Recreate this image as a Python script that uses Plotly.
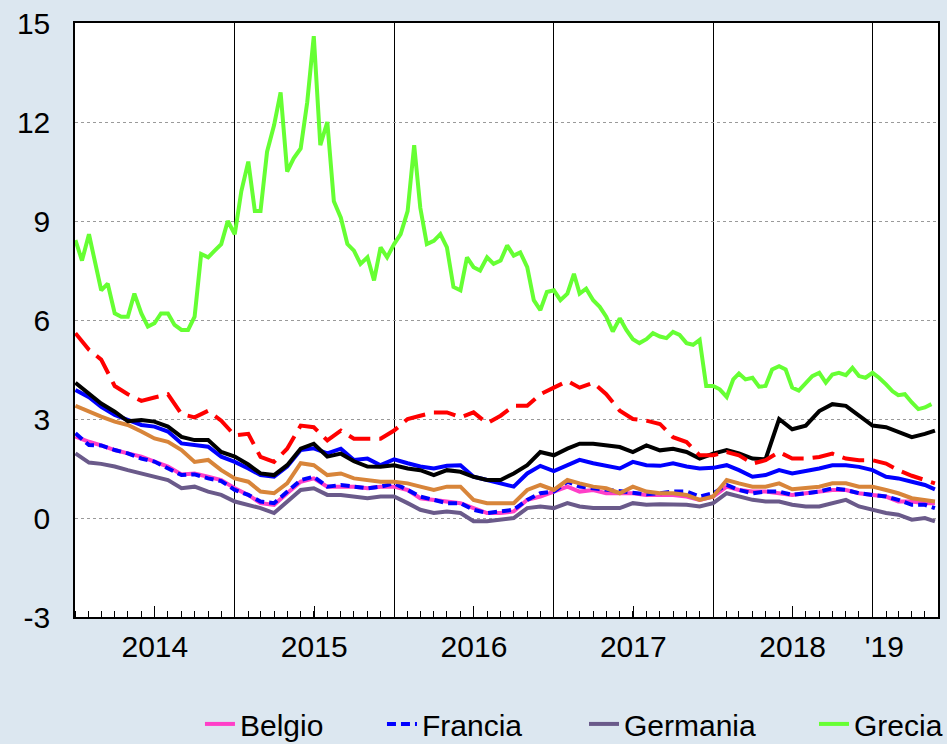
import pandas as pd
import plotly.graph_objects as go

# ---------------- data (10-year government bond yields, %) ----------------
month_starts = pd.date_range("2014-01-01", "2019-05-01", freq="MS")
monthly_dates = [d.strftime("%Y-%m-%d") for d in month_starts] + ["2019-05-24"]
semimonthly_dates = []
for d in month_starts:
    semimonthly_dates.append(d.strftime("%Y-%m-01"))
    semimonthly_dates.append(d.strftime("%Y-%m-16"))

belgio = [2.47, 2.31, 2.20, 2.06, 1.96, 1.86, 1.71, 1.56, 1.32, 1.35, 1.25, 1.15,
          0.90, 0.70, 0.45, 0.40, 0.75, 1.10, 1.20, 0.95, 0.95, 0.95, 0.90, 0.95,
          0.95, 0.85, 0.60, 0.55, 0.50, 0.45, 0.30, 0.15, 0.15, 0.20, 0.55, 0.65,
          0.80, 0.95, 0.80, 0.85, 0.75, 0.75, 0.75, 0.70, 0.70, 0.70, 0.65, 0.55,
          0.65, 0.95, 0.85, 0.80, 0.80, 0.75, 0.70, 0.75, 0.80, 0.85, 0.85, 0.75,
          0.70, 0.65, 0.50, 0.50, 0.45, 0.45]
francia = [2.57, 2.21, 2.20, 2.06, 1.96, 1.80, 1.71, 1.50, 1.30, 1.32, 1.20, 1.12,
           0.85, 0.70, 0.50, 0.45, 0.80, 1.15, 1.25, 0.95, 1.00, 0.95, 0.90, 0.95,
           1.05, 0.85, 0.65, 0.55, 0.45, 0.45, 0.25, 0.15, 0.20, 0.25, 0.55, 0.75,
           0.80, 1.10, 0.95, 0.90, 0.85, 0.80, 0.75, 0.72, 0.75, 0.80, 0.80, 0.65,
           0.75, 1.00, 0.85, 0.75, 0.80, 0.80, 0.70, 0.75, 0.80, 0.90, 0.85, 0.75,
           0.70, 0.65, 0.55, 0.40, 0.40, 0.30]
germania = [1.96, 1.68, 1.64, 1.56, 1.45, 1.35, 1.25, 1.15, 0.90, 0.95, 0.80, 0.70,
            0.50, 0.40, 0.30, 0.15, 0.50, 0.85, 0.90, 0.70, 0.70, 0.65, 0.60, 0.65,
            0.65, 0.45, 0.25, 0.15, 0.20, 0.15, -0.10, -0.10, -0.05, 0.00, 0.30, 0.35,
            0.30, 0.45, 0.35, 0.30, 0.30, 0.30, 0.45, 0.40, 0.42, 0.42, 0.40, 0.35,
            0.45, 0.75, 0.65, 0.55, 0.50, 0.50, 0.40, 0.35, 0.35, 0.45, 0.55, 0.35,
            0.25, 0.15, 0.10, -0.05, 0.00, -0.10]
grecia = [8.42, 7.80, 8.60, 7.65, 6.90, 7.10, 6.20, 6.10, 6.10, 6.80, 6.20, 5.80,
          5.90, 6.20, 6.20, 5.85, 5.70, 5.70, 6.10, 8.00, 7.90, 8.10, 8.30, 9.00,
          8.60, 9.90, 10.80, 9.30, 9.30, 11.10, 11.90, 12.90, 10.50, 10.90, 11.20, 12.60,
          14.60, 11.30, 12.00, 9.60, 9.10, 8.30, 8.10, 7.70, 7.90, 7.20, 8.20, 7.90,
          8.30, 8.60, 9.30, 11.30, 9.40, 8.30, 8.40, 8.60, 8.20, 7.00, 6.90, 7.90,
          7.60, 7.50, 7.90, 7.70, 7.80, 8.26, 7.95, 8.05, 7.60, 6.60, 6.30, 6.85,
          6.90, 6.60, 6.80, 7.40, 6.80, 6.95, 6.60, 6.40, 6.10, 5.65, 6.05, 5.70,
          5.42, 5.30, 5.42, 5.60, 5.50, 5.45, 5.64, 5.55, 5.30, 5.25, 5.40, 4.00,
          4.00, 3.90, 3.67, 4.20, 4.38, 4.20, 4.25, 3.98, 4.00, 4.50, 4.60, 4.50,
          3.95, 3.86, 4.10, 4.30, 4.40, 4.10, 4.35, 4.40, 4.33, 4.55, 4.30, 4.25,
          4.40, 4.25, 4.05, 3.84, 3.72, 3.75, 3.50, 3.30, 3.35, 3.45]
irlanda = [3.40, 3.22, 3.07, 2.92, 2.82, 2.62, 2.41, 2.31, 2.06, 1.70, 1.76, 1.45,
           1.20, 1.10, 0.80, 0.75, 1.05, 1.66, 1.60, 1.30, 1.35, 1.20, 1.15, 1.10,
           1.10, 1.05, 0.95, 0.85, 0.95, 0.95, 0.55, 0.45, 0.45, 0.45, 0.85, 1.00,
           0.85, 1.15, 1.05, 0.95, 0.90, 0.75, 0.95, 0.80, 0.75, 0.75, 0.70, 0.55,
           0.65, 1.15, 1.05, 0.95, 0.95, 1.05, 0.87, 0.90, 0.95, 1.05, 1.05, 0.95,
           0.95, 0.85, 0.75, 0.60, 0.55, 0.50]
spagna = [3.88, 3.66, 3.37, 3.12, 2.97, 2.82, 2.77, 2.62, 2.26, 2.21, 2.16, 1.86,
          1.70, 1.50, 1.30, 1.25, 1.56, 2.06, 2.11, 1.96, 2.10, 1.76, 1.80, 1.60,
          1.78, 1.66, 1.56, 1.50, 1.58, 1.60, 1.25, 1.15, 1.05, 0.95, 1.35, 1.58,
          1.42, 1.60, 1.76, 1.66, 1.58, 1.50, 1.70, 1.60, 1.58, 1.66, 1.56, 1.50,
          1.52, 1.60, 1.45, 1.25, 1.30, 1.45, 1.35, 1.42, 1.50, 1.60, 1.60, 1.55,
          1.45, 1.25, 1.20, 1.10, 1.00, 0.87]
italia = [4.10, 3.78, 3.47, 3.22, 2.93, 2.97, 2.92, 2.77, 2.46, 2.36, 2.36, 2.00,
          1.86, 1.62, 1.35, 1.30, 1.60, 2.10, 2.25, 1.86, 1.95, 1.72, 1.56, 1.55,
          1.60, 1.50, 1.45, 1.30, 1.45, 1.40, 1.25, 1.15, 1.15, 1.35, 1.60, 2.00,
          1.90, 2.10, 2.25, 2.25, 2.20, 2.15, 2.00, 2.20, 2.05, 2.10, 2.00, 1.80,
          1.95, 2.06, 1.96, 1.80, 1.78, 3.00, 2.69, 2.80, 3.24, 3.45, 3.40, 3.10,
          2.80, 2.75, 2.60, 2.45, 2.55, 2.65]
portogallo = [5.60, 5.10, 4.80, 4.00, 3.75, 3.55, 3.65, 3.75, 3.15, 3.05, 3.25, 2.95,
              2.50, 2.55, 1.85, 1.70, 2.10, 2.80, 2.75, 2.35, 2.65, 2.40, 2.40, 2.40,
              2.65, 3.00, 3.10, 3.20, 3.20, 3.05, 3.20, 2.87, 3.10, 3.40, 3.40, 3.75,
              3.95, 4.15, 3.95, 4.10, 3.75, 3.25, 3.00, 2.95, 2.85, 2.45, 2.30, 1.90,
              1.90, 2.00, 1.90, 1.65, 1.75, 2.00, 1.80, 1.80, 1.85, 1.95, 1.80, 1.75,
              1.75, 1.65, 1.45, 1.28, 1.15, 1.05]

year_lines = ["2014-01-01", "2015-01-01", "2016-01-01", "2017-01-01", "2018-01-01", "2019-01-01"]
mid_year_ticks = ["2014-07-02", "2015-07-02", "2016-07-02", "2017-07-02", "2018-07-02"]
year_label_pos = ["2014-07-02", "2015-07-02", "2016-07-02", "2017-07-02", "2018-07-02", "2019-01-28"]
year_labels = ["2014", "2015", "2016", "2017", "2018", "'19"]
y_ticks = [-3, 0, 3, 6, 9, 12, 15]
y_tick_labels = ["-3", "0", "3", "6", "9", "12", "15"]
x_range = ["2013-12-31", "2019-05-31"]

FONT = "Liberation Sans, Arial, Helvetica, sans-serif"

series = [
    ("Belgio", monthly_dates, belgio, "#ff3fc8", "solid", "legend"),
    ("Francia", monthly_dates, francia, "#0000ff", "9px,5px", "legend2"),
    ("Germania", monthly_dates, germania, "#6a5a8a", "solid", "legend3"),
    ("Grecia", semimonthly_dates, grecia, "#66ff33", "solid", "legend4"),
    ("Irlanda", monthly_dates, irlanda, "#d8853a", "solid", None),
    ("Spagna", monthly_dates, spagna, "#0000ff", "solid", None),
    ("Italia", monthly_dates, italia, "#000000", "solid", None),
    ("Portogallo", monthly_dates, portogallo, "#ff0000", "22px,9px", None),
]

fig = go.Figure()
for name, xs, ys, color, dash, leg in series:
    fig.add_trace(go.Scatter(
        x=xs, y=ys, name=name, mode="lines",
        line=dict(color=color, width=4, dash=dash),
        showlegend=leg is not None,
        legend=leg if leg else "legend",
    ))

# helper traces so the overlaid tick axes are drawn
for ax in ["x2", "x3"]:
    fig.add_trace(go.Scatter(x=[monthly_dates[0]], y=[None], xaxis=ax, mode="lines",
                             showlegend=False, hoverinfo="skip"))

legend_common = dict(orientation="h", xanchor="left", yanchor="middle", y=-0.18,
                     bgcolor="rgba(0,0,0,0)", font=dict(family=FONT, size=30, color="black"))
legend_x = {"legend": 0.1448, "legend2": 0.3557, "legend3": 0.5898, "legend4": 0.8563}

fig.update_layout(
    width=947, height=744,
    margin=dict(l=75, r=9, t=23, b=127, autoexpand=False),
    paper_bgcolor="#dce7f0", plot_bgcolor="#ffffff",
    font=dict(family=FONT, size=30, color="black"),
    hovermode=False,
    legend=dict(x=legend_x["legend"], **legend_common),
    legend2=dict(x=legend_x["legend2"], **legend_common),
    legend3=dict(x=legend_x["legend3"], **legend_common),
    legend4=dict(x=legend_x["legend4"], **legend_common),
    xaxis=dict(
        type="date", range=x_range, tickmode="array", tickvals=year_lines,
        showticklabels=False, ticks="", showgrid=True, gridcolor="#000000", gridwidth=1,
        showline=True, linecolor="#000000", linewidth=1.5, mirror=True, zeroline=False,
        minor=dict(dtick="M1", tick0="2014-01-01", ticks="inside", ticklen=6,
                   tickwidth=1, tickcolor="#000000", showgrid=False),
    ),
    xaxis2=dict(
        type="date", range=x_range, overlaying="x", side="bottom", tickmode="array",
        tickvals=mid_year_ticks, ticks="inside", ticklen=11, tickwidth=1, tickcolor="#000000",
        showticklabels=False, showgrid=False, showline=False, zeroline=False,
    ),
    xaxis3=dict(
        type="date", range=x_range, overlaying="x", side="bottom", tickmode="array",
        tickvals=year_label_pos, ticktext=year_labels, ticks="", showgrid=False,
        showline=False, zeroline=False, ticklabelstandoff=9,
        tickfont=dict(family=FONT, size=30, color="black"),
    ),
    yaxis=dict(
        range=[-3, 15], tickmode="array", tickvals=y_ticks, ticktext=y_tick_labels, ticks="",
        showgrid=True, gridcolor="#9a9a9a", griddash="dot", gridwidth=1,
        zeroline=False, showline=True, linecolor="#000000", linewidth=1.5, mirror=True,
        ticklabelstandoff=17, tickfont=dict(family=FONT, size=30, color="black"),
    ),
)

fig.write_html("out.html", config={"displayModeBar": False},
               post_script="document.body.style.margin='0';")
